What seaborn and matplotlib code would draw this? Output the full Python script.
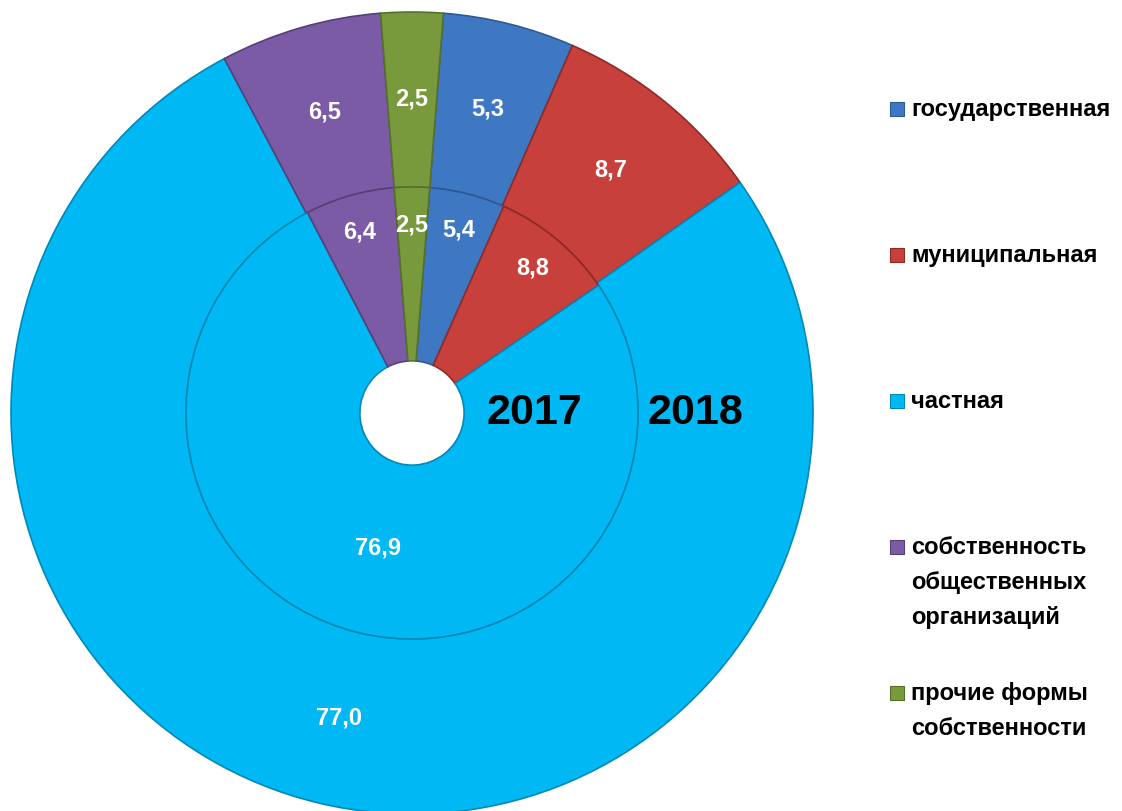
import matplotlib
matplotlib.use("Agg")
import matplotlib.pyplot as plt
import matplotlib.patches as mpatches
import numpy as np
import seaborn as sns

categories = ["государственная", "муниципальная", "частная",
              "собственность\nобщественных\nорганизаций",
              "прочие формы\nсобственности"]
values_2017 = [5.4, 8.8, 76.9, 6.4, 2.5]
values_2018 = [5.3, 8.7, 77.0, 6.5, 2.5]
years = ["2017", "2018"]

colors = ["#3F78C2", "#C8403B", "#00B9F4", "#7B5BA5", "#789A3C"]
edge_colors = ["#2C5A96", "#8E2A27", "#0088B8", "#56407A", "#56702A"]

sns.set_theme(style="white")
plt.rcParams["font.family"] = ["Liberation Sans", "DejaVu Sans"]

fig = plt.figure(figsize=(11.22, 8.11), dpi=100)
# axis box: radius 1 -> 401 px, centre at (412, 413) px from top-left
ax = fig.add_axes([11 / 1122, -3 / 811, 802 / 1122, 802 / 811])

r_out = 1.0
r_mid = 0.5636
r_hole = 0.13
start = 85.5  # first slice begins a little right of 12 o'clock

outer, _ = ax.pie(values_2018, radius=r_out, colors=colors, startangle=start,
                  counterclock=False,
                  wedgeprops=dict(width=r_out - r_mid, linewidth=1.2))
inner, _ = ax.pie(values_2017, radius=r_mid, colors=colors, startangle=start,
                  counterclock=False,
                  wedgeprops=dict(width=r_mid - r_hole, linewidth=1.2))

for w, ec in zip(outer, edge_colors):
    w.set_edgecolor(ec)
for w, ec in zip(inner, edge_colors):
    w.set_edgecolor(ec)

ax.set_xlim(-1, 1)
ax.set_ylim(-1, 1)
ax.set_aspect("equal")
ax.axis("off")


def fmt(v):
    return f"{v:.1f}".replace(".", ",")


def put_labels(wedges, vals, r_lo, r_hi, small_r):
    total = sum(vals)
    for w, v in zip(wedges, vals):
        ang = np.deg2rad((w.theta1 + w.theta2) / 2)
        r = (r_lo + r_hi) / 2
        if v / total < 0.2 and small_r is not None:
            r = small_r
        ax.text(r * np.cos(ang), r * np.sin(ang), fmt(v), ha="center", va="center",
                color="white", fontsize=17, fontweight="bold")


put_labels(outer, values_2018, r_mid, r_out, None)
put_labels(inner, values_2017, r_hole, r_mid, 0.47)

# year captions
ax.text(0.305, 0.0, years[0], ha="center", va="center", fontsize=31,
        fontweight="bold", color="black")
ax.text(0.706, 0.0, years[1], ha="center", va="center", fontsize=31,
        fontweight="bold", color="black")

# legend drawn by hand so the marker sits on the first line
y0 = 109
step = 146
for i, (lab, c, ec) in enumerate(zip(categories, colors, edge_colors)):
    yc = y0 + i * step
    sq = mpatches.Rectangle((890 / 1122, 1 - (yc + 7) / 811), 14 / 1122, 14 / 811,
                            transform=fig.transFigure, facecolor=c, edgecolor=ec,
                            linewidth=0.8)
    fig.add_artist(sq)
    fig.text(911 / 1122, 1 - (yc - 11) / 811, lab, ha="left", va="top",
             fontsize=17, fontweight="bold", color="black", linespacing=1.68)

fig.savefig("out.png", dpi=100)
